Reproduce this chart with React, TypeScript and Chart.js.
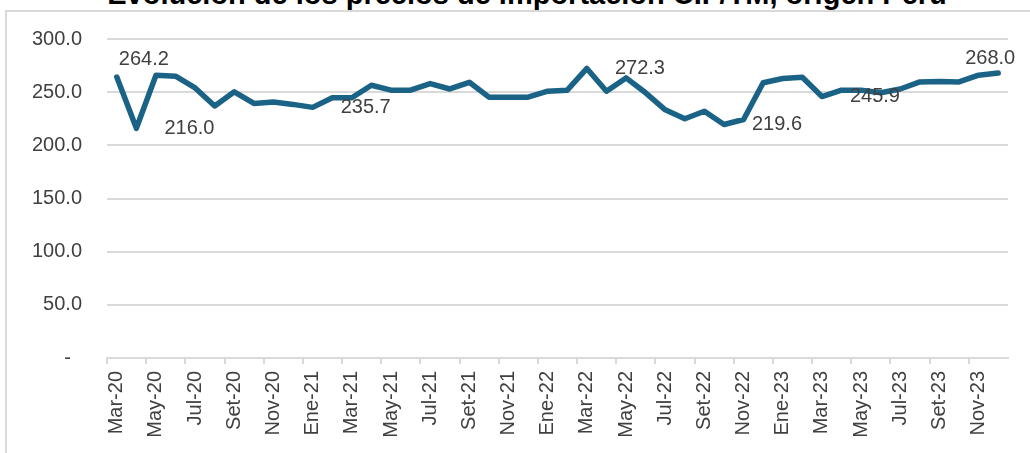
import React, { useEffect, useRef } from "react";
import { Chart, registerables } from "chart.js";

Chart.register(...registerables);

const TITLE = "Evolución de los precios de importación CIF/TM, origen Perú";

const categories: string[] = [
  "Mar-20", "Abr-20", "May-20", "Jun-20", "Jul-20", "Ago-20", "Set-20", "Oct-20", "Nov-20", "Dic-20",
  "Ene-21", "Feb-21", "Mar-21", "Abr-21", "May-21", "Jun-21", "Jul-21", "Ago-21", "Set-21", "Oct-21", "Nov-21", "Dic-21",
  "Ene-22", "Feb-22", "Mar-22", "Abr-22", "May-22", "Jun-22", "Jul-22", "Ago-22", "Set-22", "Oct-22", "Nov-22", "Dic-22",
  "Ene-23", "Feb-23", "Mar-23", "Abr-23", "May-23", "Jun-23", "Jul-23", "Ago-23", "Set-23", "Oct-23", "Nov-23", "Dic-23",
];

const prices: number[] = [
  264.2, 216.0, 265.9, 265.0, 254.0, 237.0, 250.3, 239.4, 240.7, 238.5,
  235.7, 244.7, 244.7, 256.5, 251.9, 251.9, 258.1, 253.0, 259.3, 245.3, 245.3, 245.3,
  250.9, 251.9, 272.3, 250.9, 263.4, 249.4, 233.4, 225.0, 232.1, 219.6, 224.3, 258.8,
  262.8, 264.0, 245.9, 251.9, 251.9, 249.4, 253.0, 259.6, 260.0, 259.6, 266.0, 268.0,
];

const labeledIndices: number[] = [0, 1, 10, 24, 31, 36, 45];

const yTicks: number[] = [0, 50, 100, 150, 200, 250, 300];

// label placement (style only)
const labelPlacement: Record<number, { dx: number; dy: number; align: CanvasTextAlign }> = {
  0: { dx: 2, dy: -18, align: "left" },
  1: { dx: 28, dy: 0, align: "left" },
  10: { dx: 28, dy: 0, align: "left" },
  24: { dx: 28, dy: 0, align: "left" },
  31: { dx: 28, dy: 0, align: "left" },
  36: { dx: 28, dy: 0, align: "left" },
  45: { dx: -8, dy: -15, align: "center" },
};

const TEXT_COLOR = "#404040";
const GRID_COLOR = "#d9d9d9";
const LINE_COLOR = "#1b6386";
const FONT_FAMILY = "'Liberation Sans', Arial, sans-serif";

const dataLabelPlugin = {
  id: "dataLabelPlugin",
  afterDatasetsDraw(chart: any) {
    const meta = chart.getDatasetMeta(0);
    const ctx = chart.ctx;
    ctx.save();
    ctx.font = `20px ${FONT_FAMILY}`;
    ctx.fillStyle = TEXT_COLOR;
    ctx.textBaseline = "middle";
    labeledIndices.forEach((i) => {
      const pt = meta.data[i];
      if (!pt) return;
      const p = labelPlacement[i] || { dx: 28, dy: 0, align: "left" };
      ctx.textAlign = p.align;
      ctx.fillText(prices[i].toFixed(1), pt.x + p.dx, pt.y + p.dy);
    });
    ctx.restore();
  },
};

export default function App() {
  const canvasRef = useRef<HTMLCanvasElement | null>(null);

  useEffect(() => {
    if (!canvasRef.current) return;
    const chart = new Chart(canvasRef.current, {
      type: "line",
      data: {
        labels: categories,
        datasets: [
          {
            data: prices,
            borderColor: LINE_COLOR,
            backgroundColor: LINE_COLOR,
            borderWidth: 5.5,
            pointRadius: 0,
            tension: 0,
            borderCapStyle: "round",
            borderJoinStyle: "round",
            fill: false,
          },
        ],
      },
      options: {
        animation: false,
        responsive: false,
        devicePixelRatio: 1,
        layout: { padding: { left: 0, right: 22, top: 39, bottom: 0 } },
        plugins: {
          legend: { display: false },
          tooltip: { enabled: false },
          title: { display: false },
        },
        scales: {
          x: {
            type: "category",
            offset: true,
            afterFit: (scale: any) => {
              scale.height = 95;
            },
            grid: {
              offset: true,
              drawOnChartArea: false,
              drawTicks: true,
              tickLength: 6,
              lineWidth: 2,
              color: (ctx: any) => (ctx.index % 2 === 0 ? GRID_COLOR : "rgba(0,0,0,0)"),
            },
            border: { display: true, color: GRID_COLOR, width: 2 },
            ticks: {
              autoSkip: false,
              maxRotation: 90,
              minRotation: 90,
              padding: 7,
              color: TEXT_COLOR,
              font: { family: FONT_FAMILY, size: 20 },
              callback: (_v: any, i: number) => (i % 2 === 0 ? categories[i] : ""),
            },
          },
          y: {
            min: 0,
            max: 300,
            afterFit: (scale: any) => {
              scale.width = 107;
            },
            afterBuildTicks: (scale: any) => {
              scale.ticks = yTicks.map((v) => ({ value: v }));
            },
            grid: { color: GRID_COLOR, lineWidth: 2, drawTicks: false },
            border: { display: false },
            ticks: {
              padding: 25,
              color: TEXT_COLOR,
              font: { family: FONT_FAMILY, size: 20 },
              callback: (v: any) => (Number(v) === 0 ? "-  " : Number(v).toFixed(1)),
            },
          },
        },
      },
      plugins: [dataLabelPlugin],
    } as any);
    return () => chart.destroy();
  }, []);

  return (
    <div
      style={{
        position: "fixed",
        left: 0,
        top: 0,
        width: 1030,
        height: 453,
        overflow: "hidden",
        background: "#ffffff",
      }}
    >
      <div
        style={{
          position: "absolute",
          left: 5,
          top: 10,
          width: 1100,
          height: 600,
          borderLeft: `2px solid ${GRID_COLOR}`,
          borderTop: `2px solid ${GRID_COLOR}`,
        }}
      />
      <div
        style={{
          position: "absolute",
          left: 527,
          top: -20,
          transform: "translateX(-50%)",
          whiteSpace: "nowrap",
          fontFamily: FONT_FAMILY,
          fontWeight: "bold",
          fontSize: 29,
          lineHeight: "29px",
          color: "#000000",
        }}
      >
        {TITLE}
      </div>
      <canvas
        ref={canvasRef}
        width={1030}
        height={453}
        style={{ position: "absolute", left: 0, top: 0, width: 1030, height: 453 }}
      />
    </div>
  );
}
